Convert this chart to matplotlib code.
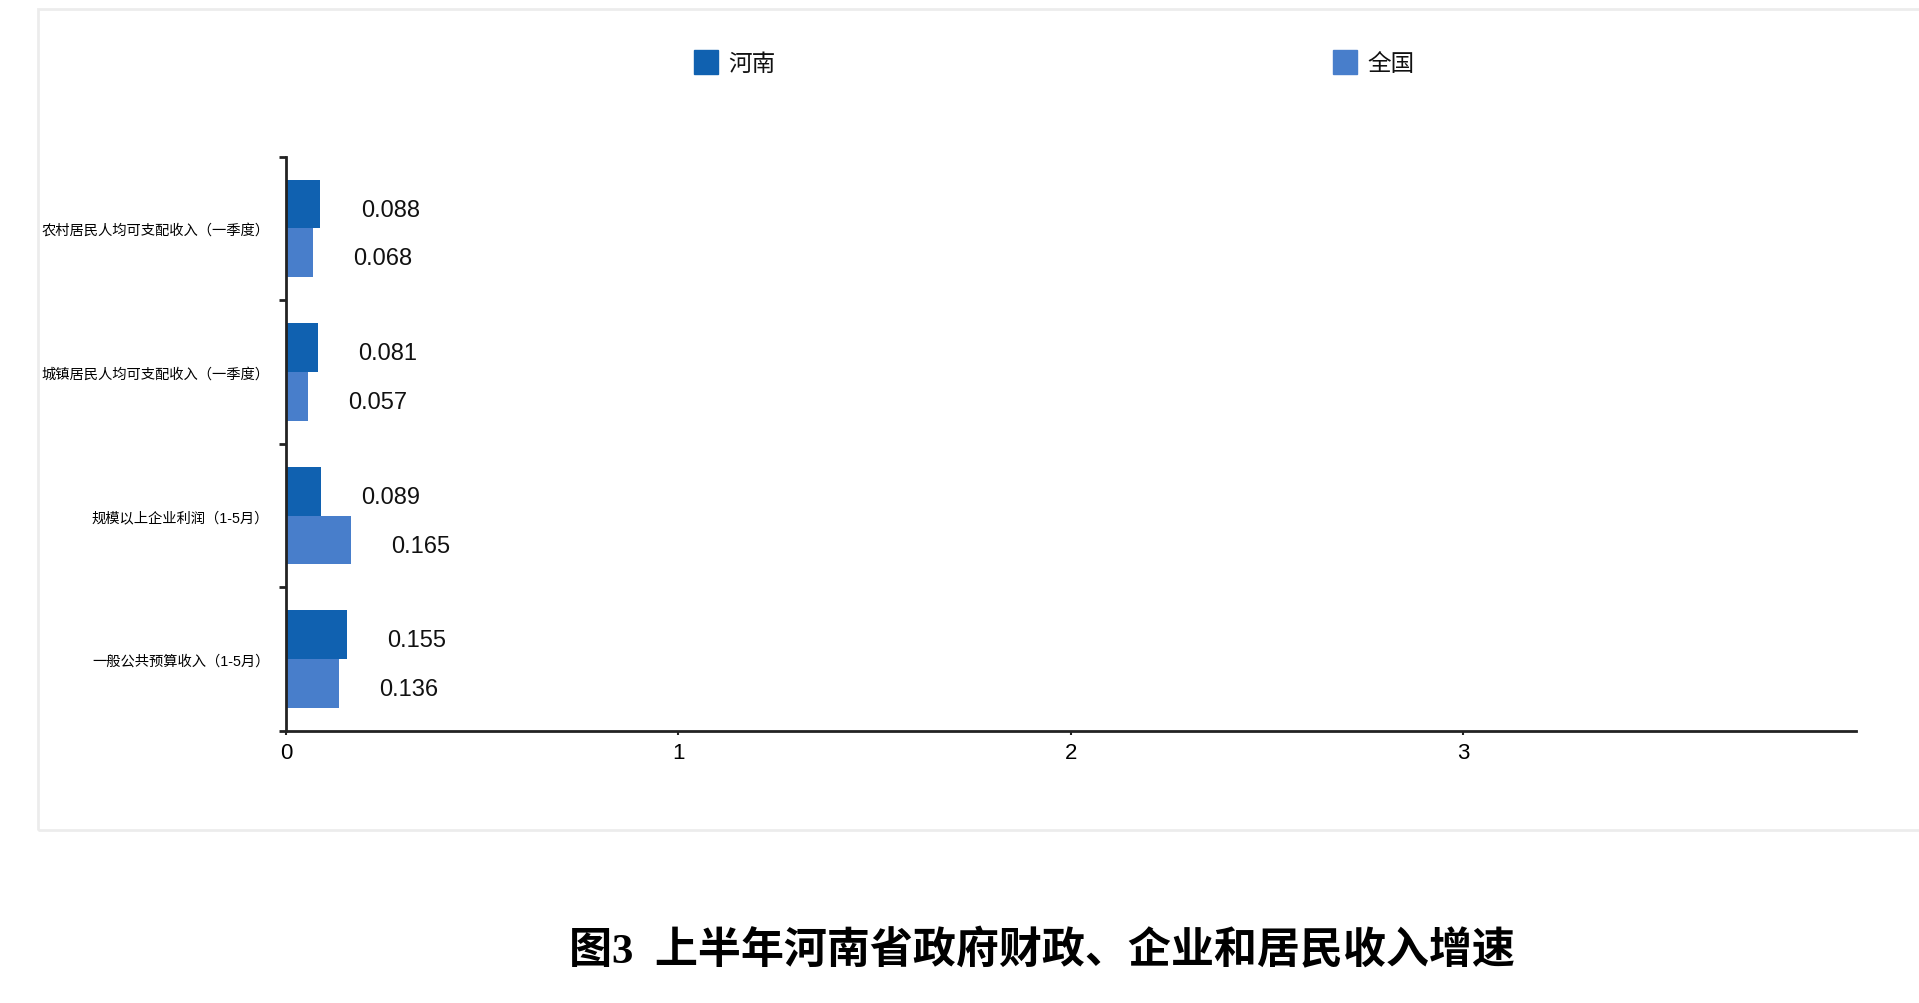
import matplotlib
matplotlib.use("Agg")
import matplotlib.pyplot as plt
from matplotlib.patches import Rectangle

# 字型：英數字用 Liberation Sans，中文退回 Noto Sans CJK SC
plt.rcParams['font.family'] = ['Liberation Sans', 'Noto Sans CJK SC']

# 資料（由下到上）
categories = ['一般公共预算收入（1-5月）', '规模以上企业利润（1-5月）',
              '城镇居民人均可支配收入（一季度）', '农村居民人均可支配收入（一季度）']
henan = [0.155, 0.089, 0.081, 0.088]
national = [0.136, 0.165, 0.057, 0.068]
series_names = ['河南', '全国']
x_ticks = [0, 1, 2, 3]
title = '图3  上半年河南省政府财政、企业和居民收入增速'

c_dark = '#1061b0'
c_light = '#487ecb'

fig = plt.figure(figsize=(19.19, 10.04), dpi=100)
ax = fig.add_axes([0.149, 0.271, 0.818, 0.572])

# 外框
fig.patches.append(Rectangle((38 / 1919, 1 - 831 / 1004), 1.0, (831 - 10) / 1004,
                             transform=fig.transFigure, fill=False,
                             edgecolor='#ececec', linewidth=2))

pos = list(range(len(categories)))
h = 0.34
ax.barh([p + 0.17 for p in pos], henan, height=h, color=c_dark)
ax.barh([p - 0.17 for p in pos], national, height=h, color=c_light)

# 數值標籤
for p, v in zip(pos, henan):
    ax.annotate(f'{v:.3f}', (v, p + 0.17), xytext=(29, -4), textcoords='offset points',
                va='center', ha='left', fontsize=17, color='#111111')
for p, v in zip(pos, national):
    ax.annotate(f'{v:.3f}', (v, p - 0.17), xytext=(29, -4), textcoords='offset points',
                va='center', ha='left', fontsize=17, color='#111111')

ax.set_xlim(0, 4)
ax.set_ylim(-0.5, len(categories) - 0.5)
ax.set_xticks(x_ticks)
ax.set_xticklabels([str(t) for t in x_ticks], fontsize=16)
ax.tick_params(axis='x', length=3, width=1.5, color='#222222', pad=5)

# y 軸：邊界刻度 + 類別文字
ax.set_yticks([p - 0.5 for p in range(len(categories) + 1)])
ax.set_yticklabels([])
ax.tick_params(axis='y', which='major', length=5, width=2, color='#222222')
ax.set_yticks(pos, minor=True)
ax.set_yticklabels(categories, minor=True, fontsize=10.3)
ax.tick_params(axis='y', which='minor', length=0, pad=12)

for s in ['top', 'right']:
    ax.spines[s].set_visible(False)
for s in ['left', 'bottom']:
    ax.spines[s].set_linewidth(2)
    ax.spines[s].set_color('#222222')

# 圖例
for x0, name, col in [(694, series_names[0], c_dark), (1333, series_names[1], c_light)]:
    fig.patches.append(Rectangle((x0 / 1919, 1 - 75 / 1004), 24 / 1919, 24 / 1004,
                                 transform=fig.transFigure, color=col))
    fig.text((x0 + 34) / 1919, 1 - 65 / 1004, name, fontsize=17, va='center', ha='left',
             color='#111111')

# 標題
fig.text(1042 / 1919, 1 - 951 / 1004, title, fontsize=31, fontweight='bold',
         ha='center', va='center', family=['Liberation Serif', 'Noto Sans CJK SC'])

fig.savefig('out.png', dpi=100)
